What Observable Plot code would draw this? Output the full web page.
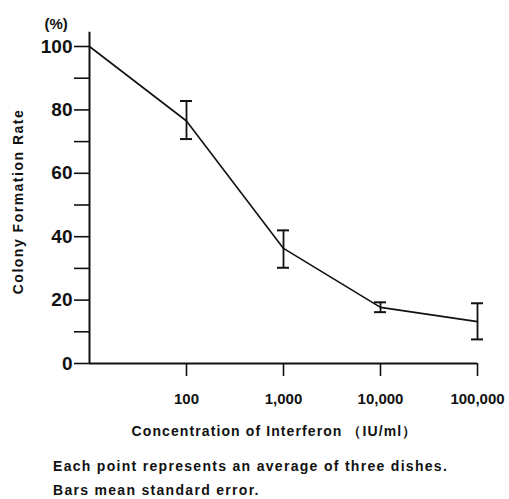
<!DOCTYPE html>
<html>
<head>
<meta charset="utf-8">
<script src="https://cdn.jsdelivr.net/npm/d3@7"></script>
<script src="https://cdn.jsdelivr.net/npm/@observablehq/plot@0.6"></script>
<style>
  html, body { margin: 0; padding: 0; background: #fff; }
  body { width: 509px; height: 499px; overflow: hidden; font-family: "Liberation Sans", Arial, sans-serif; }
  #chart svg { display: block; }
  .cap { margin-left: 53px; font-weight: bold; font-size: 14px; letter-spacing: 1.3px; color: #111; line-height: 24px; margin-top: 4px; white-space: nowrap; }
</style>
</head>
<body>
<div id="chart"></div>
<div class="cap">Each point represents an average of three dishes.<br>Bars mean standard error.</div>
<script>
const concentration = [10, 100, 1000, 10000, 100000];
const rate = [100, 76.5, 36.3, 17.7, 13.2];
const errLow = [null, 70.8, 30.2, 16.2, 7.6];
const errHigh = [null, 82.8, 42.0, 19.3, 19.0];
const xTicks = [100, 1000, 10000, 100000];
const xTickLabels = ["100", "1,000", "10,000", "100,000"];
const yTicks = [0, 10, 20, 30, 40, 50, 60, 70, 80, 90, 100];
const yTitle = "Colony Formation Rate";
const xTitle = "Concentration of Interferon （IU/ml）";
const unitLabel = "(%)";

const points = concentration.map((c, i) => ({c, r: rate[i], lo: errLow[i], hi: errHigh[i]}));
const bars = points.filter(d => d.lo != null);

const font = "Liberation Sans, Arial, sans-serif";
const plot = Plot.plot({
  width: 509,
  height: 450,
  marginLeft: 89,
  marginRight: 32,
  marginTop: 46,
  marginBottom: 87,
  style: {fontFamily: font, fontWeight: "bold", color: "#111", background: "#fff", overflow: "visible"},
  x: {type: "log", domain: [10, 100000], range: [89, 477]},
  y: {domain: [0, 100], range: [363, 46]},
  marks: [
    Plot.axisY({ticks: yTicks, tickSize: 15, tickPadding: 2, tickFormat: d => d % 20 === 0 ? String(d) : "", fontSize: 19, strokeWidth: 1.6, label: null}),
    Plot.axisX({ticks: xTicks, tickSize: 13, tickPadding: 17, tickFormat: d => xTickLabels[xTicks.indexOf(d)], fontSize: 15, strokeWidth: 1.6, label: null}),
    Plot.ruleY([0], {x1: 10, x2: 100000, stroke: "#111", strokeWidth: 2}),
    Plot.ruleX([10], {y1: 0, y2: 104.5, stroke: "#111", strokeWidth: 2}),
    Plot.line(points, {x: "c", y: "r", stroke: "#111", strokeWidth: 1.6}),
    Plot.ruleX(bars, {x: "c", y1: "lo", y2: "hi", stroke: "#111", strokeWidth: 1.8}),
    Plot.ruleY(bars, {y: "lo", x1: "c", x2: "c", insetLeft: -6, insetRight: -6, stroke: "#111", strokeWidth: 2}),
    Plot.ruleY(bars, {y: "hi", x1: "c", x2: "c", insetLeft: -6, insetRight: -6, stroke: "#111", strokeWidth: 2}),
    Plot.text([unitLabel], {frameAnchor: "top-left", dx: -45, dy: -28, text: d => d, fontSize: 15, fontWeight: "bold", textAnchor: "start"}),
    Plot.text([yTitle], {frameAnchor: "left", dx: -71, dy: -3.5, rotate: -90, text: d => d, fontSize: 14, fontWeight: "bold", textAnchor: "middle"}),
    Plot.text([xTitle], {frameAnchor: "bottom", dx: -9, dy: 72, text: d => d, fontSize: 14, fontWeight: "bold"})
  ]
});
d3.select(plot).selectAll("text").each(function () {
  const t = this.textContent;
  if (t === yTitle) this.style.letterSpacing = "1.5px";
  if (t === xTitle) this.style.letterSpacing = "1.1px";
});
document.getElementById("chart").append(plot);
</script>
</body>
</html>
